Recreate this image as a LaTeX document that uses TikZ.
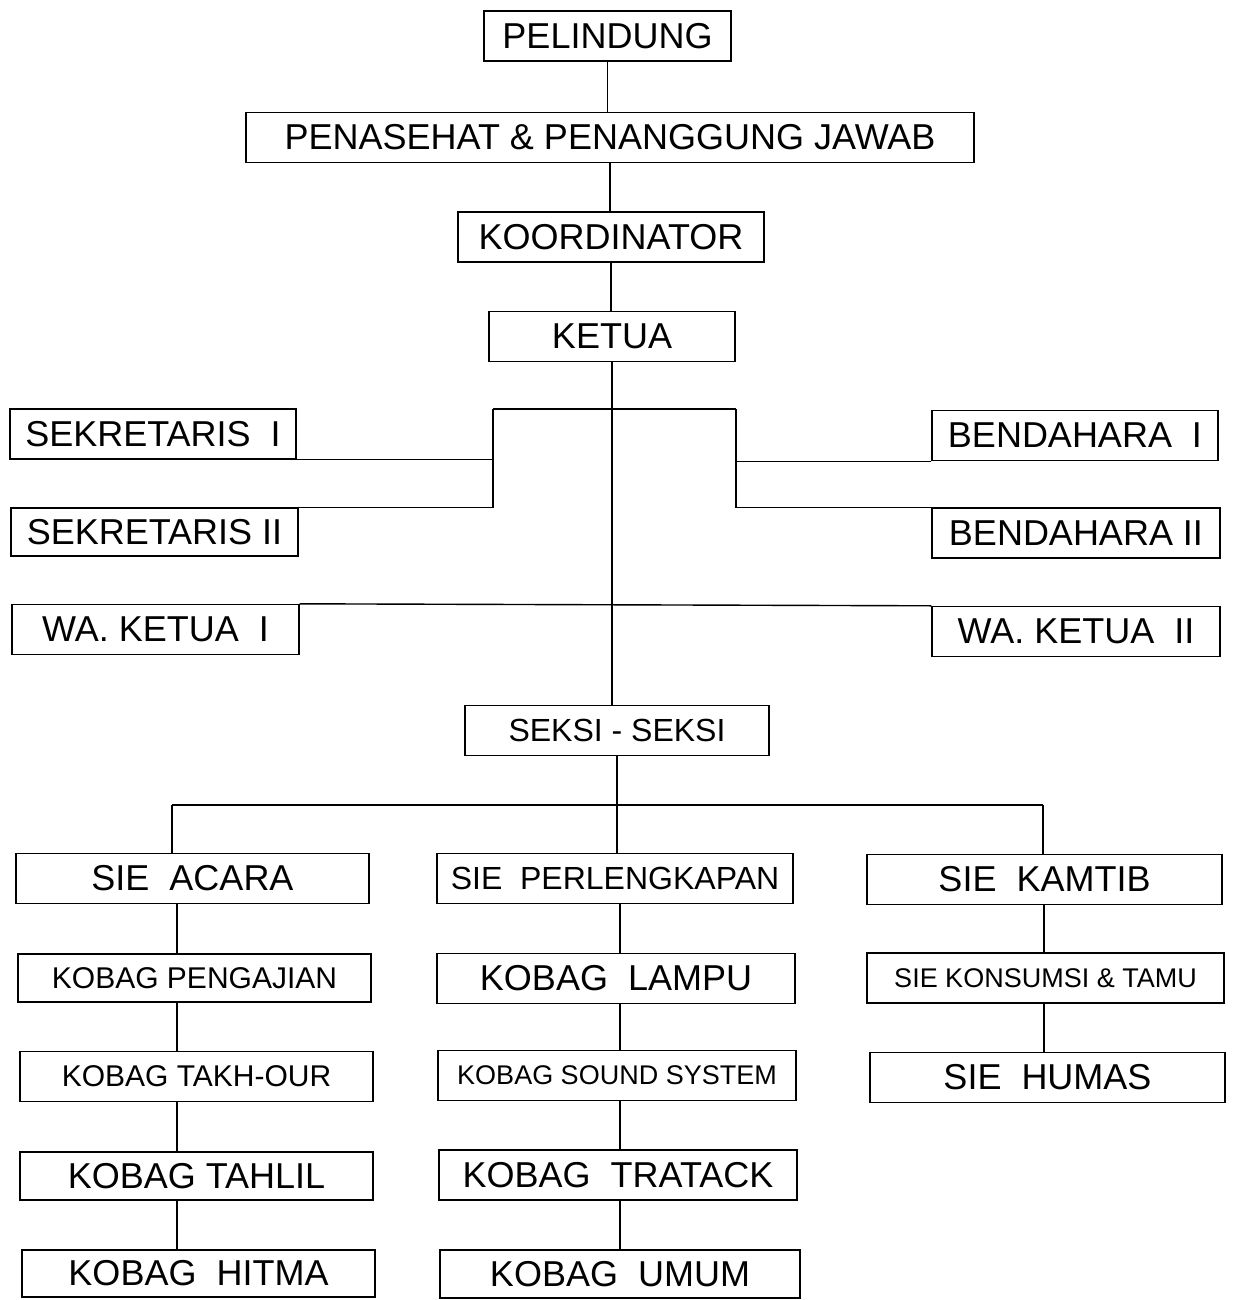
\documentclass[tikz,border=0pt]{standalone}
\usepackage{fontspec}
\setmainfont{Liberation Sans}
\usepackage{tikz}
\usetikzlibrary{positioning}

\tikzset{
  orgbox/.style={draw, line width=0.7pt, inner sep=0pt, minimum height=25pt,
    font=\fontsize{18pt}{20pt}\selectfont},
  midfont/.style={font=\fontsize{16pt}{18pt}\selectfont},
  smallfont/.style={font=\fontsize{15pt}{17pt}\selectfont},
  tinyfont/.style={font=\fontsize{13.5pt}{15pt}\selectfont}
}

\begin{document}
\begin{tikzpicture}[x=0.5pt,y=-0.5pt,line width=0.7pt]
\useasboundingbox (0,0) rectangle (1233,1300);
% top of the chart
\node (pel)    at (607.5,36)  [orgbox, minimum width=123.5pt] {PELINDUNG};
\node (pen)    at (610,137.5) [orgbox, minimum width=364pt] {PENASEHAT \& PENANGGUNG JAWAB};
\node (koor)   at (611,237)   [orgbox, minimum width=153pt] {KOORDINATOR};
\node (ketua)  at (612,336.5) [orgbox, minimum width=123pt] {KETUA};
% staff
\node (sek1)   at (153,434)    [orgbox, minimum width=143pt] {SEKRETARIS~ I};
\node (sek2)   at (154.5,532)  [orgbox, minimum width=143.5pt, minimum height=24pt] {SEKRETARIS II};
\node (ben1)   at (1075,435.5) [orgbox, minimum width=143pt] {BENDAHARA~ I};
\node (ben2)   at (1076,533)   [orgbox, minimum width=144pt] {BENDAHARA II};
\node (wa1)    at (155.5,629.5) [orgbox, minimum width=143.5pt] {WA. KETUA~ I};
\node (wa2)    at (1076,631.5)  [orgbox, minimum width=144pt] {WA. KETUA~ II};
\node (seksi)  at (617,730.5)  [orgbox, midfont, minimum width=152pt] {SEKSI - SEKSI};
% sections
\node (acara)  at (192.5,878.5) [orgbox, minimum width=176.5pt] {SIE~ ACARA};
\node (perl)   at (615,878.5)   [orgbox, midfont, minimum width=178pt] {SIE~ PERLENGKAPAN};
\node (kamtib) at (1044.5,879.5) [orgbox, minimum width=177.5pt] {SIE~ KAMTIB};
\node (peng)   at (194.5,978)   [orgbox, smallfont, minimum width=176.5pt, minimum height=24pt] {KOBAG PENGAJIAN};
\node (lampu)  at (616,978.5)   [orgbox, minimum width=179pt] {KOBAG~ LAMPU};
\node (kons)   at (1045.5,978)  [orgbox, tinyfont, minimum width=178.5pt] {SIE KONSUMSI \& TAMU};
\node (takh)   at (196.5,1076.5) [orgbox, smallfont, minimum width=176.5pt] {KOBAG TAKH-OUR};
\node (sound)  at (617,1075.5)  [orgbox, tinyfont, minimum width=179pt] {KOBAG SOUND SYSTEM};
\node (humas)  at (1047.5,1077.5) [orgbox, minimum width=177.5pt] {SIE~ HUMAS};
\node (tahlil) at (196.5,1176)  [orgbox, minimum width=176.5pt, minimum height=24pt] {KOBAG TAHLIL};
\node (tratack) at (618,1175)   [orgbox, minimum width=179pt] {KOBAG~ TRATACK};
\node (hitma)  at (198.5,1273.5) [orgbox, minimum width=176.5pt, minimum height=23.5pt] {KOBAG~ HITMA};
\node (umum)   at (620,1274)    [orgbox, minimum width=180pt, minimum height=24pt] {KOBAG~ UMUM};
% helper points
\coordinate (bl) at (493,409);
\coordinate (br) at (736,409);
\coordinate (ra) at (172,805);
\coordinate (rc) at (1043,805);
\coordinate (colA) at (177,0);
\coordinate (colB) at (620,0);
\coordinate (colC) at (1044,0);
\begin{scope}
\draw (pel.south)--(pel.south |- pen.north);
\draw (pen.south)--(pen.south |- koor.north);
\draw (koor.south)--(koor.south |- ketua.north);
\draw (ketua.south)--(ketua.south |- seksi.north);
\draw (bl)--(br);
\draw (sek1.south east)--(sek1.south east -| bl);
\draw (sek2.north east)--(sek2.north east -| bl)--(bl);
\draw (ben1.south west)--(ben1.south west -| br);
\draw (ben2.north west)--(ben2.north west -| br)--(br);
\draw (wa1.north east)--(wa2.north west);
\draw (seksi.south)--(seksi.south |- perl.north);
\draw (ra)--(rc);
\draw (ra)--(ra |- acara.north);
\draw (rc)--(rc |- kamtib.north);
\draw (acara.south -| colA)--(peng.north -| colA);
\draw (peng.south -| colA)--(takh.north -| colA);
\draw (takh.south -| colA)--(tahlil.north -| colA);
\draw (tahlil.south -| colA)--(hitma.north -| colA);
\draw (perl.south -| colB)--(lampu.north -| colB);
\draw (lampu.south -| colB)--(sound.north -| colB);
\draw (sound.south -| colB)--(tratack.north -| colB);
\draw (tratack.south -| colB)--(umum.north -| colB);
\draw (kamtib.south -| colC)--(kons.north -| colC);
\draw (kons.south -| colC)--(humas.north -| colC);
\end{scope}
\end{tikzpicture}
\end{document}
